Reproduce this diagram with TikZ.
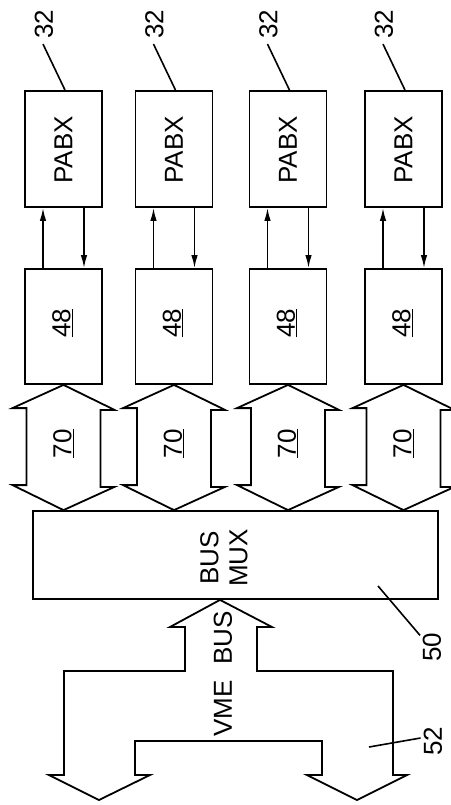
\documentclass[tikz,border=0pt]{standalone}
\usepackage{fontspec}
\setmainfont{Liberation Sans}
\usetikzlibrary{arrows.meta,calc}
\begin{document}
\begin{tikzpicture}[x=1pt,y=-1pt,
  box/.style={draw,line width=1.8pt,inner sep=0pt},
  lbl/.style={rotate=90,font=\fontsize{26}{29}\selectfont,inner sep=0pt},
  lead/.style={line width=1.6pt},
  sig/.style={line width=1.6pt,-{Latex[length=13pt,width=6.5pt]}},
  bigarrow/.style={draw,line width=1.8pt,line join=miter}]
\useasboundingbox (0,0) rectangle (450,805);
\foreach \i/\cx in {1/63.5,2/174,3/288,4/403.5}{
  \node[box,minimum width=77pt,minimum height=116pt] (p\i) at (\cx,149) {};
  \node[lbl] (pt\i) at (\cx,150) {PABX};
  \node[box,minimum width=77pt,minimum height=115pt] (b\i) at (\cx,326.5) {};
  \node[lbl] (bt\i) at (\cx-1,323) {\underline{48}};
  \node[lbl] (n32-\i) at (\cx-19.5,24) {32};
  \draw[lead] ([xshift=1.5pt]p\i.north) -- ++(-22,-46);
  \draw[sig] ([xshift=-20.5pt]b\i.north) -- ([xshift=-20.5pt]p\i.south);
  \draw[sig] ([xshift=20.5pt]p\i.south) -- ([xshift=20.5pt]b\i.north);
}
\node[box,minimum width=405pt,minimum height=88pt] (mux) at (235.5,555) {};
\node[lbl,align=center] (muxt) at (224,558) {BUS\\MUX};
\foreach \i in {1,2,3,4}{
  \draw[bigarrow] (b\i.south) -- ++(51,25) -- ++(-14,0) -- ++(0,77) -- ++(14,0)
    -- (mux.north -| b\i.south) -- ++(-51,-25) -- ++(14,0) -- ++(0,-77) -- ++(-14,0) -- cycle;
  \node[lbl] (t70-\i) at ($(b\i.south)+(0,59)$) {\underline{70}};
}
\coordinate (vt) at (mux.south -| 220,0);
\draw[bigarrow] (vt) -- (272,627) -- (257,627) -- (257,671) -- (393,671) -- (393,775)
  -- (407,775) -- (357,800) -- (307,775) -- (322,775) -- (322,741) -- (135,741)
  -- (135,775) -- (150,775) -- (99,800) -- (49,775) -- (64,775) -- (64,671)
  -- (185,671) -- (185,627) -- (170,627) -- cycle;
\node[lbl] (vme) at (223,674) {VME\hspace{0.6em}BUS};
\node[lbl] (n50) at (432,647) {50};
\draw[lead] (378,586) -- ([xshift=-12pt,yshift=-3pt]n50.east);
\node[lbl] (n52) at (433,741) {52};
\draw[lead] (369,747) -- ([xshift=-3pt,yshift=3pt]n52.north);
\end{tikzpicture}
\end{document}
